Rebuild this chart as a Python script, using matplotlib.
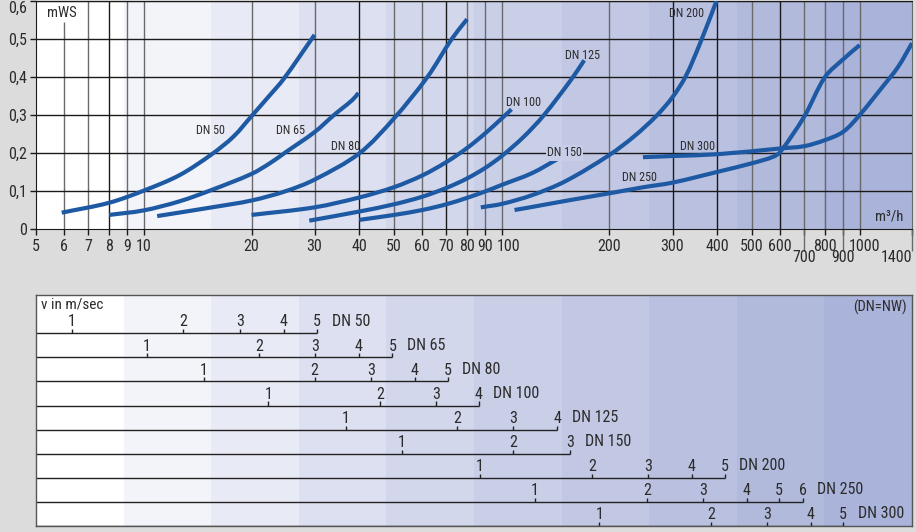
import numpy as np
import matplotlib
matplotlib.use('Agg')
import matplotlib.pyplot as plt
from matplotlib.patches import Rectangle, PathPatch
from matplotlib.path import Path
from matplotlib.ticker import NullLocator, FixedLocator, FixedFormatter

plt.rcParams['font.family'] = ['Roboto Condensed', 'DejaVu Sans']

# ---------------- data: pressure loss chart ----------------
x_ticks = [5, 6, 7, 8, 9, 10, 20, 30, 40, 50, 60, 70, 80, 90, 100,
           200, 300, 400, 500, 600, 700, 800, 900, 1000, 1400]
x_ticklabels = [str(v) for v in x_ticks]
x_low_labels = [700, 900, 1400]          # labels set one row lower
x_shift_labels = {100: 7, 1000: 5}       # labels nudged right (px)
y_ticks = [0, 0.1, 0.2, 0.3, 0.4, 0.5, 0.6]
y_ticklabels = ['0', '0,1', '0,2', '0,3', '0,4', '0,5', '0,6']

q_dn50 = [5.9, 8, 10, 12.6, 15.5, 17.8, 20, 22.4, 24.6, 30]
dp_dn50 = [0.043, 0.069, 0.101, 0.142, 0.197, 0.243, 0.297, 0.350, 0.395, 0.511]

q_dn65 = [8, 10, 12.6, 15.5, 20, 22.5, 25, 30, 34, 38.2, 39.8]
dp_dn65 = [0.037, 0.049, 0.073, 0.103, 0.145, 0.173, 0.203, 0.255, 0.30, 0.339, 0.358]

q_dn80 = [10.9, 15.5, 20, 25, 30, 40, 50, 62, 72.5, 80]
dp_dn80 = [0.034, 0.057, 0.075, 0.10, 0.13, 0.199, 0.291, 0.40, 0.50, 0.552]

q_dn100 = [20, 30, 40, 50, 60, 70, 80, 90, 100, 106.5]
dp_dn100 = [0.037, 0.057, 0.083, 0.110, 0.141, 0.176, 0.213, 0.252, 0.291, 0.315]

q_dn125 = [29, 40, 50, 60, 70, 80, 90, 100, 115, 131, 156, 170]
dp_dn125 = [0.022, 0.046, 0.065, 0.085, 0.108, 0.133, 0.161, 0.192, 0.242, 0.299, 0.392, 0.444]

q_dn150 = [40, 50, 60, 70, 80, 90, 100, 121.5, 144.4]
dp_dn150 = [0.024, 0.037, 0.050, 0.065, 0.082, 0.099, 0.116, 0.147, 0.186]

q_dn200 = [87.4, 100, 121.5, 150.8, 200, 234.5, 270, 300, 327, 359, 398]
dp_dn200 = [0.057, 0.066, 0.089, 0.126, 0.195, 0.244, 0.297, 0.347, 0.403, 0.491, 0.60]

q_dn250 = [108.6, 121.5, 150.8, 200, 249, 300, 403, 500, 573, 600, 700, 800, 900, 1000]
dp_dn250 = [0.05, 0.058, 0.074, 0.094, 0.110, 0.122, 0.151, 0.173, 0.19, 0.203,
            0.296, 0.40, 0.447, 0.484]

q_dn300 = [248, 300, 403, 600, 700, 800, 900, 1000, 1158, 1281, 1400]
dp_dn300 = [0.189, 0.192, 0.197, 0.212, 0.218, 0.234, 0.256, 0.30, 0.374, 0.427, 0.489]

curve_names = ['DN 50', 'DN 65', 'DN 80', 'DN 100', 'DN 125', 'DN 150', 'DN 200', 'DN 250', 'DN 300']

# ---------------- data: velocity scales (flow in m3/h at each velocity) ----------------
vel_dn50 = [1, 2, 3, 4, 5]
flow_dn50 = [6.30, 12.9, 18.6, 24.6, 30.5]
vel_dn65 = [1, 2, 3, 4, 5]
flow_dn65 = [10.2, 21.0, 30.1, 39.9, 49.5]
vel_dn80 = [1, 2, 3, 4, 5]
flow_dn80 = [14.7, 30.0, 43.1, 57.2, 70.6]
vel_dn100 = [1, 2, 3, 4]
flow_dn100 = [22.3, 45.8, 65.5, 86.2]
vel_dn125 = [1, 2, 3, 4]
flow_dn125 = [36.7, 75.1, 107.7, 142.7]
vel_dn150 = [1, 2, 3]
flow_dn150 = [52.7, 107.7, 155.4]
vel_dn200 = [1, 2, 3, 4, 5]
flow_dn200 = [87.0, 178.7, 256.6, 339.3, 419.5]
vel_dn250 = [1, 2, 3, 4, 5, 6]
flow_dn250 = [123.8, 254.5, 364.8, 484, 596, 693]
vel_dn300 = [1, 2, 3, 4, 5]
flow_dn300 = [187.3, 384.8, 550.6, 731, 899.5]

# ---------------- style ----------------
W, H = 916, 532
BG = '#dcdcdc'
TXT = '#2b2b2b'
CURVE = '#1e5aa4'
band_colors = ['#ffffff', '#f3f4fa', '#e8eaf5', '#dde0f0', '#d3d7ec',
               '#cacfe8', '#c2c8e4', '#bac1e0', '#b2badc', '#aab3d9']

fig = plt.figure(figsize=(W / 100, H / 100), dpi=100, facecolor=BG)


def add_bands(ax):
    n = len(band_colors)
    for i, c in enumerate(band_colors):
        ax.add_patch(Rectangle((i / n, 0), 1 / n + 0.001, 1, transform=ax.transAxes,
                               facecolor=c, edgecolor='none', zorder=0))


def smooth_curve_path(q, dp, sx=358.0, sy=380.0):
    """Bezier path through the given points (rendered smoothly; points unchanged)."""
    P = np.column_stack([np.log10(q) * sx, np.asarray(dp) * sy])
    n = len(P)
    d = np.hypot(*np.diff(P, axis=0).T)
    T = np.zeros_like(P)
    T[0] = (P[1] - P[0]) / d[0]
    T[-1] = (P[-1] - P[-2]) / d[-1]
    for i in range(1, n - 1):
        T[i] = (P[i + 1] - P[i - 1]) / (d[i - 1] + d[i])
    verts = [P[0]]
    codes = [Path.MOVETO]
    for i in range(n - 1):
        verts += [P[i] + T[i] * d[i] / 3, P[i + 1] - T[i + 1] * d[i] / 3, P[i + 1]]
        codes += [Path.CURVE4] * 3
    V = np.array(verts)
    V = np.column_stack([10 ** (V[:, 0] / sx), V[:, 1] / sy])
    return Path(V, codes)


# ================= top chart =================
ax = fig.add_axes([36 / W, 1 - 229 / H, 876 / W, 228 / H])
ax.set_xscale('log')
ax.set_xlim(5, 1400)
ax.set_ylim(0, 0.6)
add_bands(ax)

dark_v = {8, 40, 70, 300, 400, 600}
for xv in x_ticks[1:-1]:
    top = 0.545 if xv == 6 else 0.6
    ax.vlines(xv, 0, top, color='#1a1a1a' if xv in dark_v else '#6a6a6a', lw=1.0, zorder=1)
for yv in y_ticks[1:]:
    ax.axhline(yv, color='#1a1a1a', lw=1.0, zorder=1)

for sp in ['left', 'bottom', 'top']:
    ax.spines[sp].set_color('#1a1a1a')
ax.spines['right'].set_color('#6a6a6a')

curves = [(q_dn50, dp_dn50), (q_dn65, dp_dn65), (q_dn80, dp_dn80), (q_dn100, dp_dn100),
          (q_dn125, dp_dn125), (q_dn150, dp_dn150), (q_dn200, dp_dn200),
          (q_dn250, dp_dn250), (q_dn300, dp_dn300)]
for q, dp in curves:
    ax.add_patch(PathPatch(smooth_curve_path(q, dp), facecolor='none', edgecolor=CURVE,
                           lw=3.0, capstyle='butt', joinstyle='round', zorder=3))

label_pos = {'DN 50': (14.0, 0.26), 'DN 65': (23.4, 0.26), 'DN 80': (33.3, 0.217),
             'DN 100': (102.8, 0.332), 'DN 125': (150.4, 0.456), 'DN 150': (133.8, 0.20),
             'DN 200': (293, 0.568), 'DN 250': (216.6, 0.135), 'DN 300': (315, 0.218)}
for name in curve_names:
    xx, yy = label_pos[name]
    kw = {}
    if name == 'DN 150':
        kw['bbox'] = dict(facecolor='#c9cee8', edgecolor='none', pad=0.8)
    ax.text(xx, yy, name, fontsize=8.7, color=TXT, ha='left', va='center', zorder=4, **kw)

ax.text(0.0122, 0.949, 'mWS', transform=ax.transAxes, fontsize=10.5, color=TXT,
        ha='left', va='center')
ax.text(0.990, 0.054, 'm³/h', transform=ax.transAxes, fontsize=10.5, color=TXT,
        ha='right', va='center')

ax.xaxis.set_minor_locator(NullLocator())
ax.xaxis.set_major_locator(FixedLocator(x_ticks))
ax.xaxis.set_major_formatter(FixedFormatter(
    ['' if (v in x_low_labels or v in x_shift_labels) else s
     for v, s in zip(x_ticks, x_ticklabels)]))
ax.yaxis.set_major_locator(FixedLocator(y_ticks))
ax.yaxis.set_major_formatter(FixedFormatter(y_ticklabels))
ax.tick_params(axis='x', length=4, width=1, color='#1a1a1a', pad=3.0, labelsize=11.5,
               labelcolor=TXT)
ax.tick_params(axis='y', length=4, width=1, color='#1a1a1a', pad=2.5, labelsize=11.5,
               labelcolor=TXT)
for t, v in zip(ax.yaxis.get_major_ticks(), y_ticks):
    if v == 0.6:
        t.label1.set_verticalalignment('top')

xtr = ax.get_xaxis_transform()
for v, s in zip(x_ticks, x_ticklabels):
    if v in x_low_labels:
        ax.vlines(v, -22 / 228, 0, transform=xtr, color='#6a6a6a', lw=1.0, clip_on=False)
        ax.text(v, -29 / 228, s, transform=xtr, fontsize=11.5, color=TXT,
                ha='right' if v == x_ticks[-1] else 'center', va='center', clip_on=False)
    elif v in x_shift_labels:
        ax.annotate(s, xy=(v, -17.5 / 228), xycoords=xtr,
                    xytext=(x_shift_labels[v] * 0.72, 0), textcoords='offset points',
                    fontsize=11.5, color=TXT, ha='center', va='center', annotation_clip=False)

# ================= bottom chart =================
ax2 = fig.add_axes([36 / W, 1 - 526 / H, 876 / W, 231 / H])
ax2.set_xscale('log')
ax2.set_xlim(5, 1400)
ax2.set_ylim(8, -1.59)
add_bands(ax2)
ax2.set_xticks([])
ax2.set_yticks([])
ax2.xaxis.set_minor_locator(NullLocator())
for sp in ax2.spines.values():
    sp.set_color('#555555')
    sp.set_linewidth(1.0)

scales = [(vel_dn50, flow_dn50), (vel_dn65, flow_dn65), (vel_dn80, flow_dn80),
          (vel_dn100, flow_dn100), (vel_dn125, flow_dn125), (vel_dn150, flow_dn150),
          (vel_dn200, flow_dn200), (vel_dn250, flow_dn250), (vel_dn300, flow_dn300)]
for i, ((vel, flow), name) in enumerate(zip(scales, curve_names)):
    ax2.hlines(i, 5, flow[-1], color='#222222', lw=1.0, zorder=2)
    ax2.vlines(flow, i - 0.17, i, color='#222222', lw=1.0, zorder=2)
    for v, f in zip(vel, flow):
        ax2.text(f, i - 0.47, str(v), fontsize=11.5, color=TXT, ha='center', va='center', zorder=3)
    ax2.annotate(name, xy=(flow[-1], i - 0.5), xytext=(10.5, 0), textcoords='offset points',
                 fontsize=11.5, color=TXT, ha='left', va='center', zorder=3)

ax2.text(0.0054, 0.957, 'v in m/sec', transform=ax2.transAxes, fontsize=11, color=TXT,
         ha='left', va='center')
ax2.text(0.994, 0.946, '(DN=NW)', transform=ax2.transAxes, fontsize=10.5, color=TXT,
         ha='right', va='center')

fig.savefig('out.png', dpi=100, facecolor=BG)
